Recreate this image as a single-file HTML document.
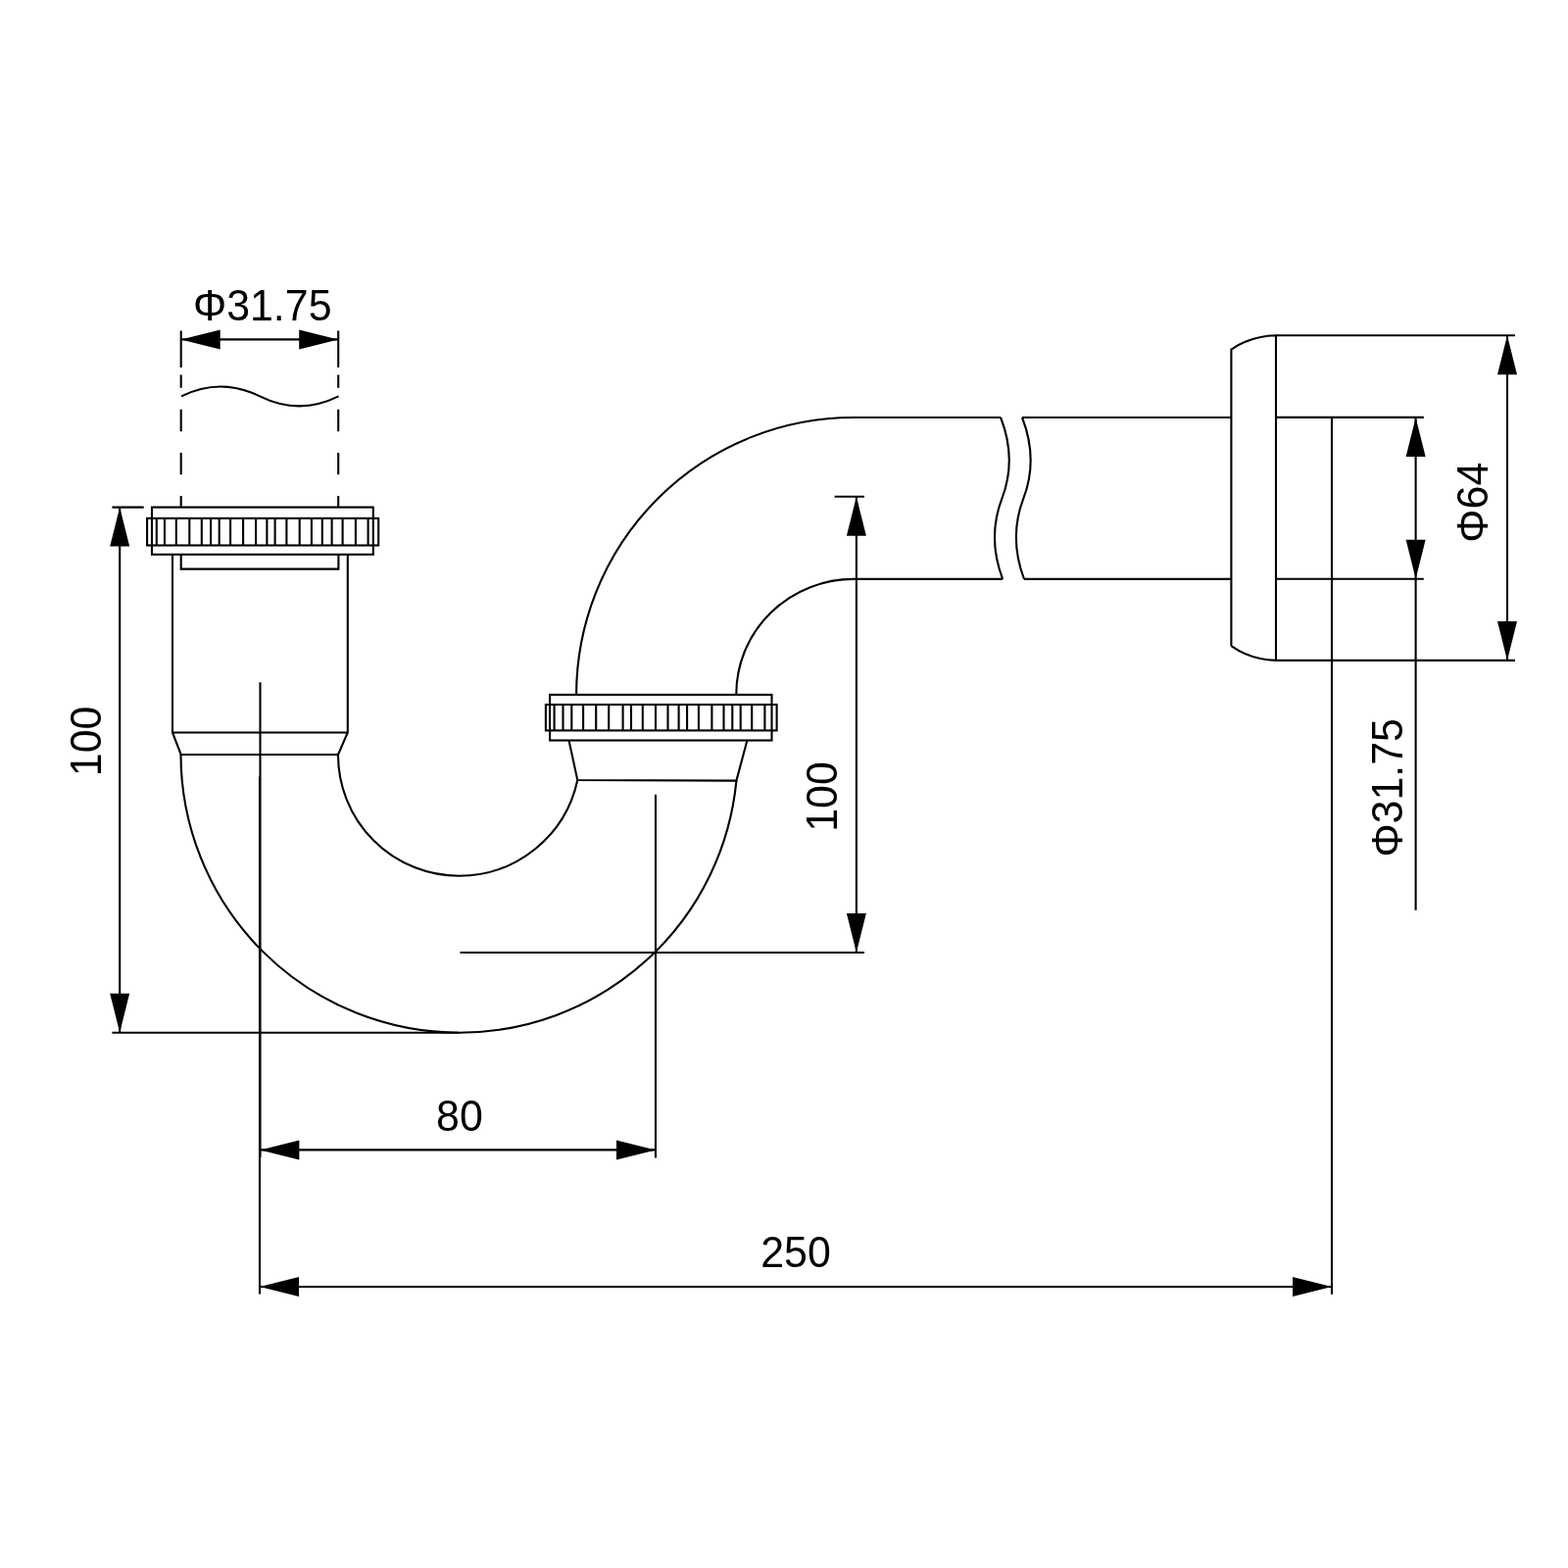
<!DOCTYPE html>
<html lang="en">
<head>
<meta charset="utf-8">
<title>P-Trap dimension drawing</title>
<style>
html,body{margin:0;padding:0;background:#fff;}
body{width:1600px;height:1600px;overflow:hidden;}
svg{display:block;will-change:transform;}
.g line,.g path,.g rect{fill:none;stroke:#000;stroke-width:2.1;stroke-linecap:butt;stroke-linejoin:miter;}
.g .a{fill:#000;stroke:none;}
.g text{font-family:"Liberation Sans",Arial,Helvetica,sans-serif;fill:#000;stroke:none;}
</style>
</head>
<body>
<svg width="1600" height="1600" viewBox="0 0 1600 1600">
<rect width="1600" height="1600" fill="#fff"/>
<g class="g">
<rect x="150.1" y="528.9" width="236.1" height="27.6"/>
<path d="M159.8 528.9V556.5 M167.95 528.9V556.5 M179.8 528.9V556.5 M193.3 528.9V556.5 M205.8 528.9V556.5 M215.1 528.9V556.5 M223.7 528.9V556.5 M235.1 528.9V556.5 M248.1 528.9V556.5 M261.1 528.9V556.5 M272.4 528.9V556.5 M280.6 528.9V556.5 M292.4 528.9V556.5 M305.7 528.9V556.5 M317.9 528.9V556.5 M328.8 528.9V556.5 M338.6 528.9V556.5 M349.6 528.9V556.5 M362.9 528.9V556.5 M375.6 528.9V556.5" />
<rect x="155" y="517.6" width="225.8" height="48.2"/>
<path d="M176 565.8V747.5L184.7 770 M354.8 565.8V747.5L345 770 M176 747.5H354.8 M184.7 770H345" />
<path d="M184.7 565.8V580.6H345.4V565.8" />
<path d="M184.5 770A284.1 284.1 0 0 0 468.6 1053.7A284.1 284.1 0 0 0 751.41 796.6" />
<path d="M345.0 770A123.5 123.5 0 0 0 468.5 893.7A123.5 123.5 0 0 0 589.28 796" />
<path d="M580.5 755.5L589.28 796L751.41 796.6L762.4 755.5" />
<rect x="556.9" y="719" width="235.7" height="26.4"/>
<path d="M565.6 719V745.4 M574.5 719V745.4 M583.3 719V745.4 M595.1 719V745.4 M608.2 719V745.4 M621.2 719V745.4 M635.6 719V745.4 M644.0 719V745.4 M655.8 719V745.4 M669.0 719V745.4 M681.5 719V745.4 M692.6 719V745.4 M701.1 719V745.4 M712.9 719V745.4 M726.4 719V745.4 M738.5 719V745.4 M747.3 719V745.4 M755.7 719V745.4 M767.2 719V745.4 M780.4 719V745.4" />
<rect x="561.1" y="708.9" width="226.4" height="46.6"/>
<path d="M588.1 708.9A283 283 0 0 1 871 426H1021.1" />
<path d="M751.3 708.9A119.7 117.5 0 0 1 871 590.9H1023.1" />
<path d="M1021.1 426C1031.6 453 1033.0 481 1022.5 508.4S1012.6 563 1023.1 590.9" />
<path d="M1043 426C1053.5 453 1054.9 481 1044.4 508.4S1034.5 563 1045 590.9" />
<path d="M1043 426H1256.4 M1045 590.9H1256.4" />
<path d="M1256.4 659.2V356.6Q1276 342.9 1302 342.2V673.9Q1276 673.2 1256.4 659.2" />
<path d="M1302 342.2H1545.9 M1302 673.9H1545.9" />
<path d="M1302 425.9H1452.8 M1302 590.8H1452.8" />
<line x1="1538" y1="342.2" x2="1538" y2="673.9" />
<polygon class="a" points="1538,342.2 1528.0,382.2 1548.0,382.2"/>
<polygon class="a" points="1538,673.9 1528.0,633.9 1548.0,633.9"/>
<line x1="1444.6" y1="425.9" x2="1444.6" y2="928.7" />
<polygon class="a" points="1444.6,425.9 1434.6,465.9 1454.6,465.9"/>
<polygon class="a" points="1444.6,590.8 1434.6,550.8 1454.6,550.8"/>
<line x1="1359" y1="425.9" x2="1359" y2="1320.8" />
<text font-size="42.9" transform="translate(1517.80 553.67) rotate(-90) scale(1 1.021)">Φ64</text>
<text font-size="42.9" transform="translate(1430.60 874.61) rotate(-90) scale(1 1.021)">Φ31.75</text>
<line x1="122.2" y1="517.6" x2="122.2" y2="1053.7" />
<polygon class="a" points="122.2,517.6 112.2,557.6 132.2,557.6"/>
<polygon class="a" points="122.2,1053.7 112.2,1013.7 132.2,1013.7"/>
<path d="M114.4 517.6H146.7 M114.4 1053.7H468" />
<text font-size="42.9" transform="translate(102.80 792.18) rotate(-90) scale(1 1.021)">100</text>
<line x1="873.9" y1="506.7" x2="873.9" y2="972" />
<polygon class="a" points="873.9,506.7 863.9,546.7 883.9,546.7"/>
<polygon class="a" points="873.9,972 863.9,932 883.9,932"/>
<path d="M851.6 506.7H882 M469.5 972H882" />
<text font-size="42.9" transform="translate(854.30 848.83) rotate(-90) scale(1 1.021)">100</text>
<line x1="265.5" y1="696.3" x2="265.5" y2="1181" />
<line x1="265" y1="792.5" x2="265" y2="1320.4" />
<line x1="669" y1="810.7" x2="669" y2="1181.5" />
<line x1="265.4" y1="1173.4" x2="669" y2="1173.4" />
<polygon class="a" points="265.4,1173.4 305.4,1163.4 305.4,1183.4"/>
<polygon class="a" points="669,1173.4 629,1163.4 629,1183.4"/>
<text font-size="42.9" transform="translate(445.06 1153.80) scale(1 1.021)">80</text>
<line x1="265" y1="1313" x2="1359" y2="1313" />
<polygon class="a" points="265,1313 305,1303.0 305,1323.0"/>
<polygon class="a" points="1359,1313 1319,1303.0 1319,1323.0"/>
<text font-size="42.9" transform="translate(776.24 1293.30) scale(1 1.021)">250</text>
<line x1="184.7" y1="346.4" x2="345.2" y2="346.4" />
<polygon class="a" points="184.7,346.4 224.7,336.4 224.7,356.4"/>
<polygon class="a" points="345.2,346.4 305.2,336.4 305.2,356.4"/>
<path d="M184.7 337.6V375 M184.7 382.4V395.7 M184.7 417.8V440.2 M184.7 462V484.2 M184.7 506V517.6" />
<path d="M345.2 337.6V375 M345.2 382.4V395.7 M345.2 417.8V440.2 M345.2 462V484.2 M345.2 506V517.6" />
<path d="M185 404.4C212 391 238 391 265.1 404.4S318.5 417.8 345.5 404.4" />
<text font-size="42.9" transform="translate(196.94 326.60) scale(1 1.021)">Φ31.75</text>
</g>
</svg>
</body>
</html>
